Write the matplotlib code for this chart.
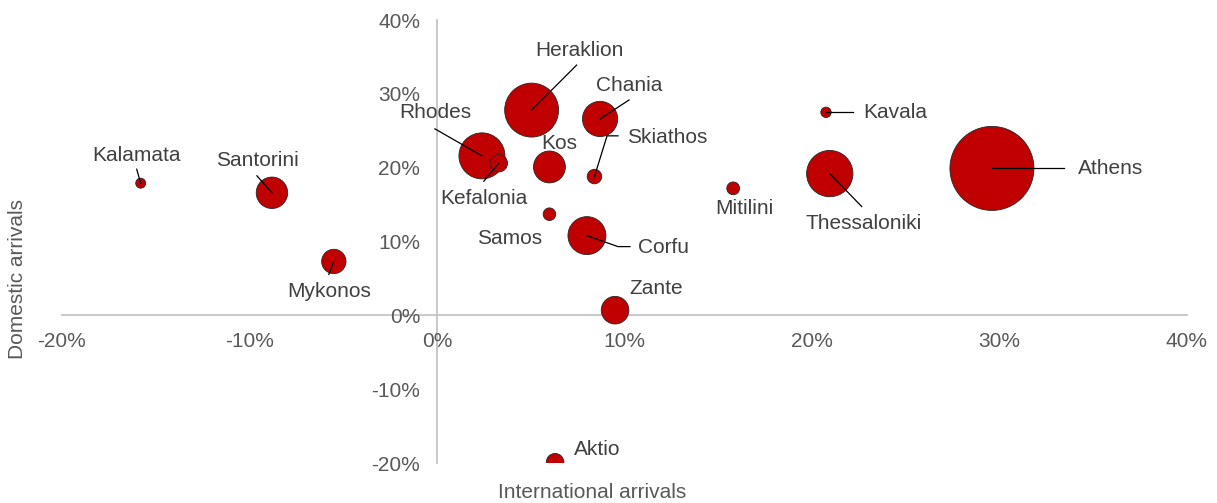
import numpy as np
import matplotlib
matplotlib.use("Agg")
import matplotlib.pyplot as plt
import matplotlib.transforms as mtransforms
from matplotlib.ticker import FuncFormatter

plt.rcParams['font.family'] = ['Liberation Sans', 'DejaVu Sans']

# Airport traffic growth (%), bubble size ~ passenger volume
airports = ['Athens', 'Heraklion', 'Thessaloniki', 'Rhodes', 'Corfu', 'Chania',
            'Kos', 'Santorini', 'Zante', 'Mykonos', 'Aktio', 'Kefalonia',
            'Skiathos', 'Mitilini', 'Samos', 'Kavala', 'Kalamata']
intl_growth = [29.6, 5.05, 20.95, 2.4, 8.0, 8.7,
               6.0, -8.8, 9.5, -5.5, 6.3, 3.3,
               8.4, 15.8, 6.0, 20.75, -15.8]
dom_growth = [19.9, 27.8, 19.2, 21.6, 10.8, 26.6,
              20.1, 16.6, 0.7, 7.3, -19.9, 20.6,
              18.8, 17.2, 13.7, 27.5, 17.9]
passengers = [25.0, 10.3, 7.6, 7.5, 5.1, 4.4,
              3.6, 3.5, 2.7, 2.1, 1.1, 1.07,
              0.75, 0.58, 0.56, 0.38, 0.35]

x_ticks = np.arange(-20, 41, 10)
y_ticks = np.arange(-20, 41, 10)

# label placement: text offset in pixels (y up), alignment, leader path in pixels
label_layout = {
    'Heraklion':    ((48, 60), 'center', [(0, 0), (45, 45)]),
    'Chania':       ((29, 33), 'center', [(0, 0), (29, 19)]),
    'Skiathos':     ((33, 39), 'left', [(0, 0), (12.6, 40.7), (23.6, 40.7)]),
    'Rhodes':       ((-47, 43), 'center', [(0, 0), (-47, 27)]),
    'Kefalonia':    ((-15, -35), 'center', [(0, 0), (-15, -18)]),
    'Kos':          ((10, 23), 'center', None),
    'Samos':        ((-40, -24), 'center', None),
    'Corfu':        ((51, -12), 'left', [(0, 0), (31, -11), (43, -11)]),
    'Zante':        ((41, 22), 'center', None),
    'Aktio':        ((42, 13), 'center', None),
    'Kalamata':     ((-4, 28), 'center', [(0, 0), (-4, 14)]),
    'Santorini':    ((-15, 32), 'center', [(0, 0), (-15, 17)]),
    'Mykonos':      ((-5, -30), 'center', [(0, 0), (-5, -13)]),
    'Kavala':       ((37, 0), 'left', [(0, 0), (27, 0)]),
    'Athens':       ((119, 0), 'center', [(0, 0), (72, 0)]),
    'Mitilini':     ((11, -20), 'center', None),
    'Thessaloniki': ((34, -50), 'center', [(0, 0), (32, -33)]),
}

fig = plt.figure(figsize=(12.17, 5.03), dpi=100)
ax = fig.add_axes([0.0509, 0.0795, 0.9244, 0.8807])
ax.set_xlim(-20, 40)
ax.set_ylim(-20, 40)
ax.set_autoscale_on(False)

sizes = np.array(passengers)
order = np.argsort(-sizes)
ax.scatter(np.array(intl_growth)[order], np.array(dom_growth)[order],
           s=sizes[order] * 146.3, c='#C00000', edgecolors='#262626',
           linewidths=0.6, zorder=3)

for name, x, y in zip(airports, intl_growth, dom_growth):
    (dx, dy), ha, path = label_layout[name]
    if path is not None:
        tr = mtransforms.IdentityTransform() + mtransforms.ScaledTranslation(x, y, ax.transData)
        px = [p[0] for p in path]
        py = [p[1] for p in path]
        ax.plot(px, py, color='black', lw=0.9, transform=tr, zorder=4)
    ax.annotate(name, xy=(x, y), xytext=(dx * 0.72, dy * 0.72),
                textcoords='offset points', ha=ha, va='center',
                fontsize=15, color='#404040', zorder=5)

for side in ['top', 'right']:
    ax.spines[side].set_visible(False)
ax.spines['left'].set_position(('data', 0))
ax.spines['bottom'].set_position(('data', 0))
for side in ['left', 'bottom']:
    ax.spines[side].set_color('#BFBFBF')
    ax.spines[side].set_linewidth(1.2)
    ax.spines[side].set_zorder(1)

pct = FuncFormatter(lambda v, p: '%d%%' % round(v))
ax.set_xticks(x_ticks)
ax.set_yticks(y_ticks)
ax.xaxis.set_major_formatter(pct)
ax.yaxis.set_major_formatter(pct)
ax.tick_params(length=0, labelsize=15, labelcolor='#595959')
ax.tick_params(axis='x', pad=12)
ax.tick_params(axis='y', pad=12)

fig.text(592 / 1217, 1 - 493 / 503, 'International arrivals', ha='center', va='center',
         fontsize=15, color='#595959')
fig.text(18 / 1217, 1 - 279 / 503, 'Domestic arrivals', ha='center', va='center',
         rotation=90, fontsize=15, color='#595959')

fig.savefig('out.png', dpi=100)
